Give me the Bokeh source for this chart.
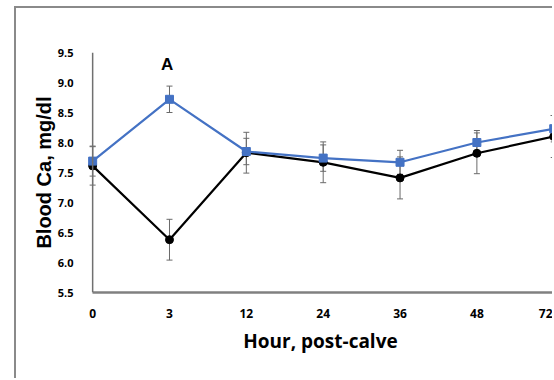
from bokeh.plotting import figure
from bokeh.models import (ColumnDataSource, Range1d, FixedTicker, PrintfTickFormatter,
                          Whisker, TeeHead, Span, Label)
from bokeh.embed import file_html
from bokeh.resources import INLINE

# ---- data ----
hours = ["0", "3", "12", "24", "36", "48", "72"]
blue_ca = [7.69, 8.72, 7.85, 7.74, 7.67, 8.00, 8.23]
blue_err = [0.25, 0.22, 0.22, 0.22, 0.20, 0.20, 0.22]
black_ca = [7.61, 6.38, 7.83, 7.67, 7.41, 7.82, 8.10]
black_err = [0.32, 0.34, 0.34, 0.34, 0.35, 0.34, 0.35]
y_ticks = [5.5, 6.0, 6.5, 7.0, 7.5, 8.0, 8.5, 9.0, 9.5]

xs = list(range(len(hours)))
blue_src = ColumnDataSource(dict(x=xs, y=blue_ca,
                                 lo=[v - e for v, e in zip(blue_ca, blue_err)],
                                 hi=[v + e for v, e in zip(blue_ca, blue_err)]))
black_src = ColumnDataSource(dict(x=xs, y=black_ca,
                                  lo=[v - e for v, e in zip(black_ca, black_err)],
                                  hi=[v + e for v, e in zip(black_ca, black_err)]))

TICK_FONT = "Open Sans"

p = figure(width=538, height=372, output_backend="svg", toolbar_location=None,
           x_range=Range1d(-0.08, 6.01), y_range=Range1d(5.5, 9.5),
           min_border_left=70, min_border_right=0, min_border_top=44, min_border_bottom=88)
p.margin = (6, 0, 0, 14)
p.styles = {"border-left": "2px solid #8a8a8a", "border-top": "2px solid #8a8a8a"}
p.outline_line_color = None
p.grid.visible = False
p.background_fill_color = "white"
p.border_fill_color = "white"

# x axis
xa = p.xaxis[0]
xa.ticker = FixedTicker(ticks=xs)
xa.major_label_overrides = {i: h for i, h in enumerate(hours)}
xa.bounds = (0, len(hours) - 1)
xa.axis_line_color = "#808080"
xa.axis_line_width = 2.5
xa.major_tick_line_color = None
xa.minor_tick_line_color = None
xa.major_label_text_font = TICK_FONT
xa.major_label_text_font_style = "bold"
xa.major_label_text_font_size = "12px"
xa.major_label_text_color = "black"
xa.major_label_standoff = 10
xa.axis_label = "Hour, post-calve"
xa.axis_label_text_font = TICK_FONT
xa.axis_label_text_font_style = "bold"
xa.axis_label_text_font_size = "19px"
xa.axis_label_text_color = "black"
xa.axis_label_standoff = 7

# y axis
ya = p.yaxis[0]
ya.ticker = FixedTicker(ticks=y_ticks)
ya.formatter = PrintfTickFormatter(format="%.1f")
ya.axis_line_color = None
ya.major_tick_line_color = None
ya.minor_tick_line_color = None
ya.major_label_text_font = TICK_FONT
ya.major_label_text_font_style = "bold"
ya.major_label_text_font_size = "11px"
ya.major_label_text_color = "black"
ya.major_label_standoff = 7
ya.axis_label = "Blood Ca, mg/dl"
ya.axis_label_text_font = "Liberation Sans"
ya.axis_label_text_font_style = "bold"
ya.axis_label_text_font_size = "20px"
ya.axis_label_text_color = "black"
ya.axis_label_standoff = 0

# y axis line at x = 0
p.add_layout(Span(location=0, dimension="height", line_color="#707070", line_width=1.5))

# error bars
for src in (black_src, blue_src):
    w = Whisker(base="x", upper="hi", lower="lo", source=src, dimension="height",
                line_color="#6a6a6a", line_width=1,
                upper_head=TeeHead(size=6, line_color="#6a6a6a", line_width=1),
                lower_head=TeeHead(size=6, line_color="#6a6a6a", line_width=1))
    p.add_layout(w)

# series
p.line("x", "y", source=black_src, line_color="black", line_width=2.2)
p.scatter("x", "y", source=black_src, marker="circle", size=8,
          fill_color="black", line_color="black")
p.line("x", "y", source=blue_src, line_color="#4472C4", line_width=2.2)
p.scatter("x", "y", source=blue_src, marker="square", size=8,
          fill_color="#4472C4", line_color="#4472C4")

p.add_layout(Label(x=0.97, y=9.30, text="A", text_align="center", text_baseline="middle",
                   text_font="Liberation Sans", text_font_style="bold",
                   text_font_size="17px", text_color="black"))

open("out.html", "w").write(file_html(p, INLINE))
